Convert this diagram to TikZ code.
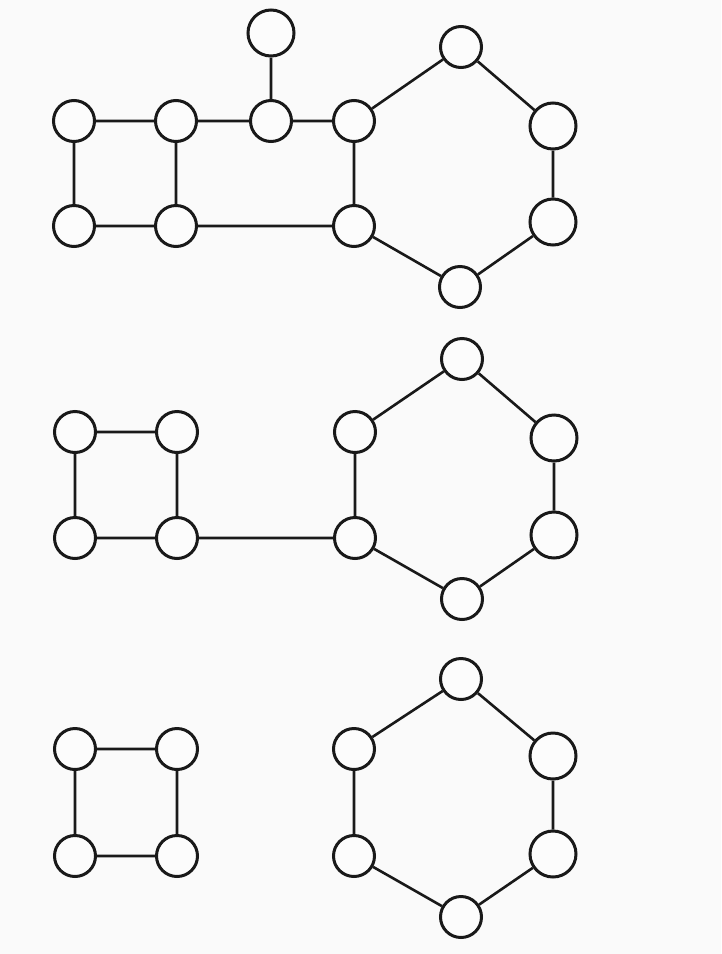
\documentclass[tikz,border=0pt]{standalone}
\begin{document}
\begin{tikzpicture}[x=1pt,y=-1pt,
  vtx/.style={circle,draw=black!90,fill=black!1,line width=3pt,minimum size=41pt,inner sep=0pt},
  bigvtx/.style={vtx,minimum size=46pt},
  edge/.style={draw=black!90,line width=2.6pt}]
\fill[black!2] (0,0) rectangle (721,954);
\useasboundingbox (0,0) rectangle (721,954);
% top graph
\node[bigvtx] (p) at (271,33) {};
\node[vtx] (a1) at (74,121) {};
\node[vtx] (a2) at (176,121) {};
\node[vtx] (a3) at (271,121) {};
\node[vtx] (a4) at (354,121) {};
\node[vtx] (b1) at (74,226) {};
\node[vtx] (b2) at (176,226) {};
\node[vtx] (b4) at (354,226) {};
\node[vtx] (h1) at (461,47) {};
\node[bigvtx] (h2) at (553,126) {};
\node[bigvtx] (h3) at (553,222) {};
\node[vtx] (h4) at (460,287) {};
\draw[edge] (p)--(a3) (a1)--(a2) (a2)--(a3) (a3)--(a4) (a1)--(b1) (a2)--(b2) (a4)--(b4)
  (b1)--(b2) (b2)--(b4) (a4)--(h1) (h1)--(h2) (h2)--(h3) (h3)--(h4) (h4)--(b4);
% middle graph
\node[vtx] (c1) at (75,432) {};
\node[vtx] (c2) at (177,432) {};
\node[vtx] (d1) at (75,538) {};
\node[vtx] (d2) at (177,538) {};
\node[vtx] (m1) at (462,359) {};
\node[vtx] (m6) at (355,432) {};
\node[bigvtx] (m2) at (554,438) {};
\node[bigvtx] (m3) at (554,535) {};
\node[vtx] (m4) at (462,599) {};
\node[vtx] (m5) at (355,538) {};
\draw[edge] (c1)--(c2) (c1)--(d1) (c2)--(d2) (d1)--(d2) (d2)--(m5)
  (m6)--(m1) (m1)--(m2) (m2)--(m3) (m3)--(m4) (m4)--(m5) (m5)--(m6);
% bottom graph
\node[vtx] (e1) at (75,749) {};
\node[vtx] (e2) at (177,749) {};
\node[vtx] (f1) at (75,856) {};
\node[vtx] (f2) at (177,856) {};
\node[vtx] (n1) at (461,679) {};
\node[vtx] (n6) at (354,749) {};
\node[bigvtx] (n2) at (553,756) {};
\node[bigvtx] (n3) at (553,854) {};
\node[vtx] (n4) at (461,917) {};
\node[vtx] (n5) at (354,856) {};
\draw[edge] (e1)--(e2) (e1)--(f1) (e2)--(f2) (f1)--(f2)
  (n6)--(n1) (n1)--(n2) (n2)--(n3) (n3)--(n4) (n4)--(n5) (n5)--(n6);
\end{tikzpicture}
\end{document}
